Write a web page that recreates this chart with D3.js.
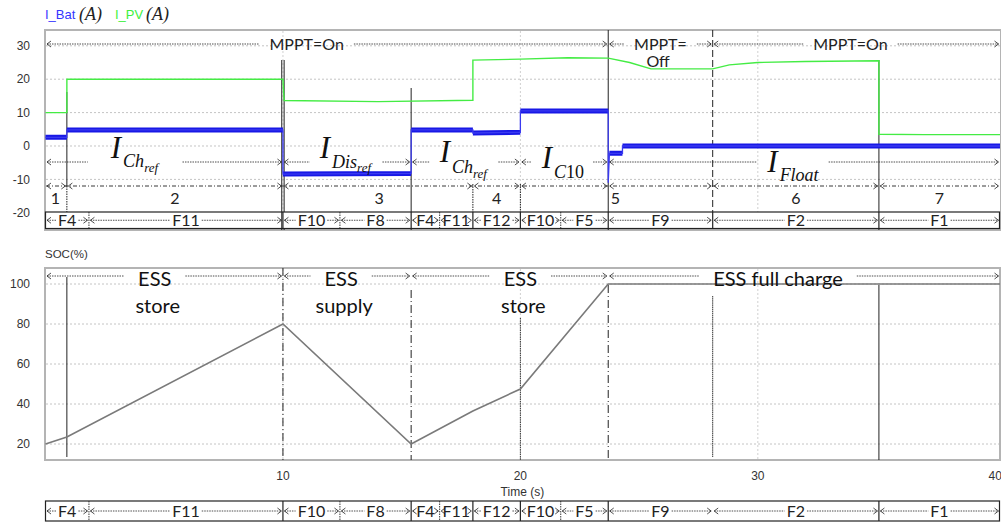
<!DOCTYPE html>
<html>
<head>
<meta charset="utf-8">
<script src="https://cdn.jsdelivr.net/npm/d3@7"></script>
<style>
  body { margin: 0; background: #fff; }
  svg { display: block; }
</style>
</head>
<body>
<div id="chart"></div>
<script>
// ---- data: [time (s), value] ----
const pvCurrent = [[0,10],[0.9,10],[0.9,20],[10,20],[10.05,13.6],[14,13.3],[18,13.7],[18,25.7],[20,26],[22,26.4],[23.7,26.3],[24.6,25],[25.5,23.1],[28.1,23.1],[28.8,24.3],[30,25],[32,25.3],[35.1,25.5],[35.1,3.5],[37,3.4],[40.2,3.4]];
const batCurrent = [[0,2.6],[0.9,2.6],[0.9,4.8],[10,4.8],[10,-8.4],[15.4,-8.2],[15.4,4.8],[18,4.8],[18,3.9],[20,4.1],[20,10.5],[23.7,10.5],[23.7,-11],[23.75,-2.2],[24.3,-2.2],[24.3,0],[40.2,0]];
const batRipple = 0.75;   // half width of the ripple band (A)
const socValues = [[0,20],[0.9,23.5],[10,80],[15.4,20],[18,36.5],[20,47.5],[23.7,100],[40.2,100]];

const xTicks = [10, 20, 30, 40];
const currentTicks = [30, 20, 10, 0, -10, -20];
const socTicks = [100, 80, 60, 40, 20];

// operating stages (row with numbers)
const stageBounds = [0, 0.9, 10, 18, 20, 23.7, 28.1, 35.1, 40.2];
const stageNames = ["1", "2", "3", "4", "5", "6", "7"];
const stageLabelAt = [0.42, 5.45, 14.05, 19.0, 24.0, 31.6, 37.65];

// modes row: [name, start, end]
const modes = [["F4",0,1.83],["F11",1.83,10],["F10",10,12.4],["F8",12.4,15.4],["F4",15.4,16.6],["F11",16.6,18],["F12",18,20],["F10",20,21.7],["F5",21.7,23.7],["F9",23.7,28.1],["F2",28.1,35.1],["F1",35.1,40.2]];
const eventTimes = [10, 15.4, 18, 20, 23.7, 28.1, 35.1];
const eventTimesSoc = [10, 15.4, 18, 20, 23.7, 35.1];

// MPPT state spans
const mpptSpans = [["MPPT=On",0,23.7,11.0],["MPPT=",23.7,28.1,25.9],["MPPT=On",28.1,40.2,33.9]];
// current reference spans: [main, sub, subsub, start, end, label at]
const refSpans = [["I","Ch","ref",0,10,2.75],["I","Dis","ref",10,15.4,11.55],["I","Ch","ref",15.4,20,16.6],["I","C","10",20,23.7,20.9],["I","Float","",23.7,40.2,30.4]];
// ESS state spans: [line1, line2, start, end, label at]
const essSpans = [["ESS","store",0,10,4.6],["ESS","supply",10,15.4,12.45],["ESS","store",15.4,23.7,20.0],["ESS full charge","",23.7,40.2,30.85]];

const W = 1001, H = 524;
const svg = d3.select("#chart").append("svg").attr("width", W).attr("height", H);

const x = d3.scaleLinear().domain([0, 40.2]).range([45.5, 1000]);
const yTop = d3.scaleLinear().domain([-25.15, 34.73]).range([230, 30]);
const ySoc = d3.scaleLinear().domain([12, 108]).range([460, 268]);

const sansTick = "'Liberation Sans', Arial, sans-serif";
const sansNote = "Lato, 'Open Sans', sans-serif";
const serif = "'Liberation Serif', 'Times New Roman', serif";
const ink = "#222";

function chevron(g, px, py, dir) {
  // dir = -1 points left, +1 points right
  g.append("path")
    .attr("d", `M${px - dir * 4},${py - 3}L${px},${py}L${px - dir * 4},${py + 3}`)
    .attr("fill", "none").attr("stroke", ink).attr("stroke-width", 0.8);
}
function dotLine(g, x1, x2, py, dash) {
  if (x2 - x1 < 1) return;
  g.append("line").attr("x1", x1).attr("x2", x2).attr("y1", py).attr("y2", py)
    .attr("stroke", ink).attr("stroke-width", 0.8).attr("stroke-dasharray", dash || "1.5,1");
}
// arrow span: <---- label ---->
function spanArrows(g, a, b, py, box, gap, dash) {
  chevron(g, a + 1.5, py, -1);
  chevron(g, b - 1.5, py, 1);
  if (box) {
    dotLine(g, a + 1.5, box.x - gap, py, dash);
    dotLine(g, box.x + box.width + gap, b - 1.5, py, dash);
  } else {
    dotLine(g, a + 1.5, b - 1.5, py, dash);
  }
}
function vline(g, t, y1, y2, dash, color, w) {
  g.append("line").attr("x1", x(t)).attr("x2", x(t)).attr("y1", y1).attr("y2", y2)
    .attr("stroke", color || ink).attr("stroke-width", w || 1)
    .attr("stroke-dasharray", dash || null);
}

// ---------------- legend ----------------
const leg = svg.append("g");
leg.append("text").attr("x", 45).attr("y", 19).attr("font-family", sansTick).attr("font-size", 13)
  .attr("fill", "#3535ff").text("I_Bat");
leg.append("text").attr("x", 79).attr("y", 20).attr("font-family", serif).attr("font-style", "italic")
  .attr("font-size", 18).attr("fill", ink).text("(A)");
leg.append("text").attr("x", 115).attr("y", 19).attr("font-family", sansTick).attr("font-size", 13)
  .attr("fill", "#3cf03c").text("I_PV");
leg.append("text").attr("x", 146).attr("y", 20).attr("font-family", serif).attr("font-style", "italic")
  .attr("font-size", 18).attr("fill", ink).text("(A)");

// ---------------- current panel ----------------
const topPanel = svg.append("g");
topPanel.selectAll(".hg").data(currentTicks.filter(d => d > -20)).join("line")
  .attr("x1", 46).attr("x2", 1000).attr("y1", d => yTop(d)).attr("y2", d => yTop(d))
  .attr("stroke", "#c4c4c4").attr("stroke-width", 1).attr("stroke-dasharray", "2,2");
topPanel.selectAll(".vg").data(xTicks.filter(d => d < 40)).join("line")
  .attr("x1", d => x(d)).attr("x2", d => x(d)).attr("y1", 31).attr("y2", 212)
  .attr("stroke", "#d0d0d0").attr("stroke-width", 1).attr("stroke-dasharray", "2,2");
topPanel.append("rect").attr("x", 45).attr("y", 30).attr("width", 956).attr("height", 200)
  .attr("fill", "none").attr("stroke", "#b4b4b4").attr("stroke-width", 2);
topPanel.selectAll(".yt").data(currentTicks).join("text")
  .attr("x", 30).attr("y", d => yTop(d)).attr("dy", "0.35em").attr("text-anchor", "end")
  .attr("font-family", sansTick).attr("font-size", 12).attr("fill", "#333").text(d => d);

// vertical event markers in the current panel
vline(topPanel, 0.9, 92, 186);
vline(topPanel, 0.9, 186, 212, "1.5,1");
vline(topPanel, 9.95, 60, 230, null, ink, 1);
vline(topPanel, 10.05, 60, 230, null, ink, 1);
vline(topPanel, 15.4, 88, 230);
vline(topPanel, 18, 184, 212, "1.5,1");
vline(topPanel, 20, 184, 212, "1.5,1");
vline(topPanel, 23.7, 30, 230);
vline(topPanel, 28.1, 30, 230, "7,3");
vline(topPanel, 35.1, 60, 230);

// curves
const lineTop = d3.line().x(d => x(d[0])).y(d => yTop(d[1]));
topPanel.append("path").datum(pvCurrent).attr("d", lineTop)
  .attr("fill", "none").attr("stroke", "#44ec44").attr("stroke-width", 1.4);
const batBand = d3.area().x(d => x(d[0]))
  .y0(d => yTop(d[1] - batRipple)).y1(d => yTop(d[1] + batRipple));
topPanel.append("path").datum(batCurrent).attr("d", batBand)
  .attr("fill", "#1818e6").attr("stroke", "none");
topPanel.append("path").datum(batCurrent).attr("d", lineTop)
  .attr("fill", "none").attr("stroke", "#3a3af0").attr("stroke-width", 1.3);

// MPPT row
mpptSpans.forEach(s => {
  const t = topPanel.append("text").attr("x", x(s[3])).attr("y", 44).attr("dy", "0.35em")
    .attr("text-anchor", "middle").attr("font-family", sansNote).attr("font-size", 16)
    .attr("fill", ink).text(s[0]);
  spanArrows(topPanel, x(s[1]), x(s[2]), 44, t.node().getBBox(), 10);
});
topPanel.append("text").attr("x", x(25.8)).attr("y", 61).attr("dy", "0.35em").attr("text-anchor", "middle")
  .attr("font-family", sansNote).attr("font-size", 16).attr("fill", ink).text("Off");

// current reference row
const refBase = [[158, 167, 172], [158, 168, 172], [162, 173, 178], [168, 178, 178], [172, 181, 0]];
refSpans.forEach((s, i) => {
  const t = topPanel.append("text").attr("x", x(s[5])).attr("y", refBase[i][0])
    .attr("font-family", serif).attr("font-style", "italic").attr("fill", "#111");
  t.append("tspan").attr("font-size", 31).text(s[0]);
  t.append("tspan").attr("font-size", 18).attr("dx", 2).attr("dy", refBase[i][1] - refBase[i][0]).text(s[1]);
  if (s[2]) {
    const digits = /^\d+$/.test(s[2]);
    t.append("tspan").attr("font-size", digits ? 18 : 13).attr("font-style", digits ? "normal" : "italic")
      .attr("dy", refBase[i][2] - refBase[i][1]).text(s[2]);
  }
  spanArrows(topPanel, x(s[3]), x(s[4]), 162, t.node().getBBox(), i === 0 ? 22 : 9);
});

// stage row
topPanel.append("line").attr("x1", 46).attr("x2", 1000).attr("y1", 186).attr("y2", 186)
  .attr("stroke", ink).attr("stroke-width", 0.9).attr("stroke-dasharray", "4,2,1,2");
stageBounds.forEach((b, i) => {
  if (i > 0) chevron(topPanel, x(b) - 1.5, 186, 1);
  if (i < stageBounds.length - 1) chevron(topPanel, x(b) + 1.5, 186, -1);
});
topPanel.selectAll(".st").data(stageNames).join("text")
  .attr("x", (d, i) => x(stageLabelAt[i])).attr("y", 198).attr("dy", "0.35em")
  .attr("text-anchor", "middle").attr("font-family", sansNote).attr("font-size", 16)
  .attr("fill", ink).text(d => d);

// modes row drawn as a boxed strip
function modeStrip(g, y0, y1, solidAt, divideAt) {
  g.append("rect").attr("x", 45.5).attr("y", y0).attr("width", 954).attr("height", y1 - y0)
    .attr("fill", "#fff").attr("stroke", ink).attr("stroke-width", 1.2);
  const yc = (y0 + y1) / 2;
  modes.forEach((m, i) => {
    if (i > 0 && divideAt.includes(m[1])) {
      const solid = solidAt.includes(m[1]);
      g.append("line").attr("x1", x(m[1])).attr("x2", x(m[1])).attr("y1", y0).attr("y2", y1)
        .attr("stroke", ink).attr("stroke-width", solid ? 1.2 : 0.9)
        .attr("stroke-dasharray", solid ? null : "1.5,1");
    }
    const t = g.append("text").attr("x", x((m[1] + m[2]) / 2)).attr("y", yc).attr("dy", "0.36em")
      .attr("text-anchor", "middle").attr("font-family", sansNote).attr("font-size", 16)
      .attr("fill", ink).text(m[0]);
    spanArrows(g, x(m[1]), x(m[2]), yc, t.node().getBBox(), 2);
  });
}
const allStarts = modes.map(m => m[1]);
modeStrip(topPanel, 212, 228.5, eventTimes, allStarts);
vline(topPanel, 9.95, 212, 229, null, ink, 1);

// ---------------- SOC panel ----------------
const bot = svg.append("g");
bot.append("text").attr("x", 45).attr("y", 258).attr("font-family", sansTick).attr("font-size", 11.5)
  .attr("fill", "#333").text("SOC(%)");
bot.selectAll(".hg").data(socTicks).join("line")
  .attr("x1", 46).attr("x2", 1000).attr("y1", d => ySoc(d)).attr("y2", d => ySoc(d))
  .attr("stroke", "#c4c4c4").attr("stroke-width", 1).attr("stroke-dasharray", "2,2");
bot.selectAll(".vg").data(xTicks.filter(d => d < 40)).join("line")
  .attr("x1", d => x(d)).attr("x2", d => x(d)).attr("y1", 269).attr("y2", 459)
  .attr("stroke", "#d0d0d0").attr("stroke-width", 1).attr("stroke-dasharray", "2,2");
bot.append("rect").attr("x", 45).attr("y", 268).attr("width", 955).attr("height", 192)
  .attr("fill", "none").attr("stroke", "#b4b4b4").attr("stroke-width", 2);
bot.selectAll(".yt").data(socTicks).join("text")
  .attr("x", 30).attr("y", d => ySoc(d)).attr("dy", "0.35em").attr("text-anchor", "end")
  .attr("font-family", sansTick).attr("font-size", 12).attr("fill", "#333").text(d => d);
bot.selectAll(".xt").data(xTicks).join("text")
  .attr("x", d => x(d)).attr("y", 476).attr("dy", "0.35em").attr("text-anchor", "middle")
  .attr("font-family", sansTick).attr("font-size", 12).attr("fill", "#333").text(d => d);
bot.append("text").attr("x", x(20) + 2).attr("y", 492).attr("dy", "0.35em").attr("text-anchor", "middle")
  .attr("font-family", sansTick).attr("font-size", 12).attr("fill", "#333").text("Time (s)");

vline(bot, 0.9, 277, 457);
vline(bot, 10, 268, 460, "8,3,1,3");
vline(bot, 15.4, 290, 460, "8,3,1,3");
vline(bot, 20, 318, 460, "1.5,0.8", "#333");
vline(bot, 23.7, 285, 460, "8,3,1,3");
vline(bot, 28.1, 296, 457, "1.5,0.6", "#333");
vline(bot, 35.1, 285, 460);

const lineSoc = d3.line().x(d => x(d[0])).y(d => ySoc(d[1]));
bot.append("path").datum(socValues).attr("d", lineSoc)
  .attr("fill", "none").attr("stroke", "#7a7a7a").attr("stroke-width", 1.6);

essSpans.forEach(s => {
  const t = bot.append("text").attr("x", x(s[4])).attr("y", 279).attr("dy", "0.36em")
    .attr("text-anchor", "middle").attr("font-family", sansNote).attr("font-size", 20)
    .attr("fill", "#111").text(s[0]);
  spanArrows(bot, x(s[2]), x(s[3]), 276, t.node().getBBox(), 14);
  if (s[1]) {
    bot.append("text").attr("x", x(s[4]) + 3).attr("y", 306).attr("dy", "0.36em")
      .attr("text-anchor", "middle").attr("font-family", sansNote).attr("font-size", 20)
      .attr("fill", "#111").text(s[1]);
  }
});

// bottom modes strip
const bottomStrip = svg.append("g");
modeStrip(bottomStrip, 501, 521, eventTimesSoc, allStarts.filter(t => t !== 28.1));
</script>
</body>
</html>
